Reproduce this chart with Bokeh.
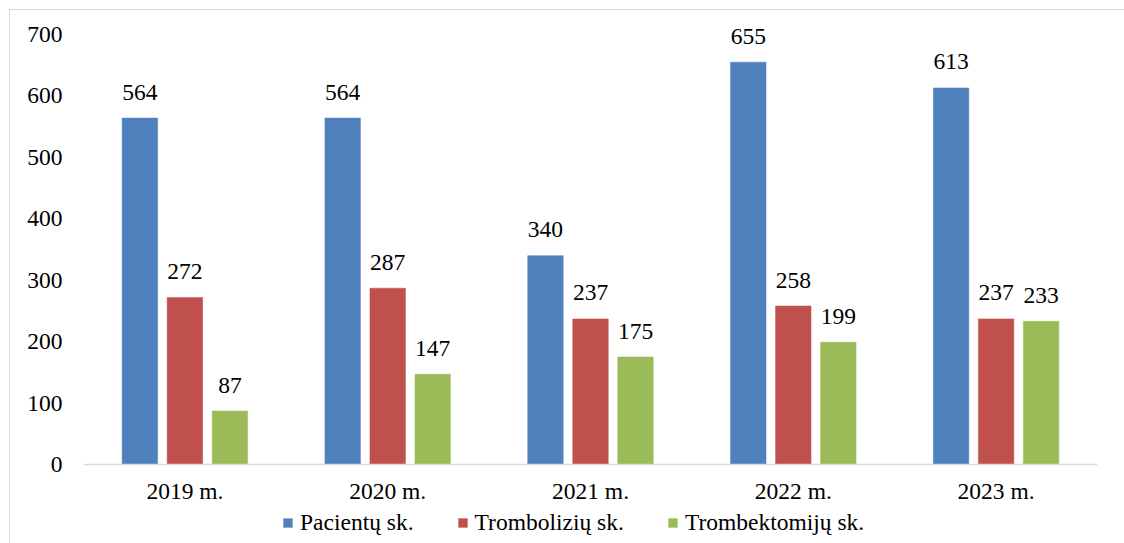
from bokeh.plotting import figure
from bokeh.models import ColumnDataSource, FactorRange, Range1d, Legend, LegendItem, FixedTicker
from bokeh.transform import dodge
from bokeh.core.properties import value
from bokeh.embed import file_html
from bokeh.resources import INLINE

years = ["2019 m.", "2020 m.", "2021 m.", "2022 m.", "2023 m."]
pacientu = [564, 564, 340, 655, 613]
trombolizes = [272, 287, 237, 258, 237]
trombektomijos = [87, 147, 175, 199, 233]
series_names = ["Pacientų sk.", "Trombolizių sk.", "Trombektomijų sk."]
y_ticks = [0, 100, 200, 300, 400, 500, 600, 700]

colors = ["#4F81BD", "#C0504D", "#9BBB59"]
FONT = "Liberation Serif"
FS = "23.5px"

src = ColumnDataSource(dict(
    year=years,
    pac=pacientu, pac_s=[str(v) for v in pacientu],
    tl=trombolizes, tl_s=[str(v) for v in trombolizes],
    te=trombektomijos, te_s=[str(v) for v in trombektomijos],
))

# pixel scale: 700 units over 430 px. The frame is extended above 700 (for labels)
# and below 0 (for category labels and legend); the x axis sits at y = 0.
PX_PER_UNIT = 430 / 700
ABOVE_PX, BELOW_PX = 20, 79
Y_END = 700 + ABOVE_PX / PX_PER_UNIT
Y_START = -BELOW_PX / PX_PER_UNIT

p = figure(
    x_range=FactorRange(*years, range_padding=0),
    y_range=Range1d(Y_START, Y_END),
    frame_width=1014, frame_height=430 + ABOVE_PX + BELOW_PX,
    min_border_left=73, min_border_right=27, min_border_top=4, min_border_bottom=0,
    output_backend="svg", toolbar_location=None,
)
p.styles = {"margin-left": "9px", "margin-top": "9px",
            "border-left": "1px solid #d9d9d9", "border-top": "1px solid #d9d9d9"}
p.outline_line_color = None
p.xgrid.grid_line_color = None
p.ygrid.grid_line_color = None
p.background_fill_color = "white"
p.border_fill_color = "white"

offsets = [-0.222, 0.0, 0.222]
cols = ["pac", "tl", "te"]
renderers = []
for off, col, c in zip(offsets, cols, colors):
    r = p.vbar(x=dodge("year", off, range=p.x_range), top=col, width=0.175, bottom=0,
               source=src, fill_color=c, line_color=c, line_width=0.5)
    renderers.append(r)
    p.text(x=dodge("year", off, range=p.x_range), y=col, text=col + "_s", source=src,
           text_align="center", text_baseline="alphabetic", y_offset=-26,
           text_font=value(FONT), text_font_size=FS, text_color="#000000")

# axes
p.yaxis.ticker = FixedTicker(ticks=y_ticks)
p.yaxis.axis_line_color = None
p.yaxis.major_tick_line_color = None
p.yaxis.minor_tick_line_color = None
p.yaxis.major_tick_out = 0
p.yaxis.major_label_standoff = 21
p.yaxis.major_label_text_font = FONT
p.yaxis.major_label_text_font_size = FS
p.yaxis.major_label_text_color = "#000000"

p.xaxis.fixed_location = 0
p.xaxis.axis_line_color = "#d9d9d9"
p.xaxis.axis_line_width = 1.5
p.xaxis.major_tick_line_color = None
p.xaxis.minor_tick_line_color = None
p.xaxis.major_tick_out = 0
p.xaxis.major_label_standoff = 13
p.xaxis.major_label_text_font = FONT
p.xaxis.major_label_text_font_size = FS
p.xaxis.major_label_text_color = "#000000"

legend = Legend(
    items=[LegendItem(label=n, renderers=[r]) for n, r in zip(series_names, renderers)],
    orientation="horizontal", location=(199, 5),
    glyph_width=11, glyph_height=11, label_standoff=7, spacing=43, label_height=31,
    padding=0, margin=0, border_line_color=None, background_fill_alpha=0,
    label_text_font=FONT, label_text_font_size=FS, label_text_color="#000000",
)
p.add_layout(legend, "center")

open("out.html", "w").write(file_html(p, INLINE))
